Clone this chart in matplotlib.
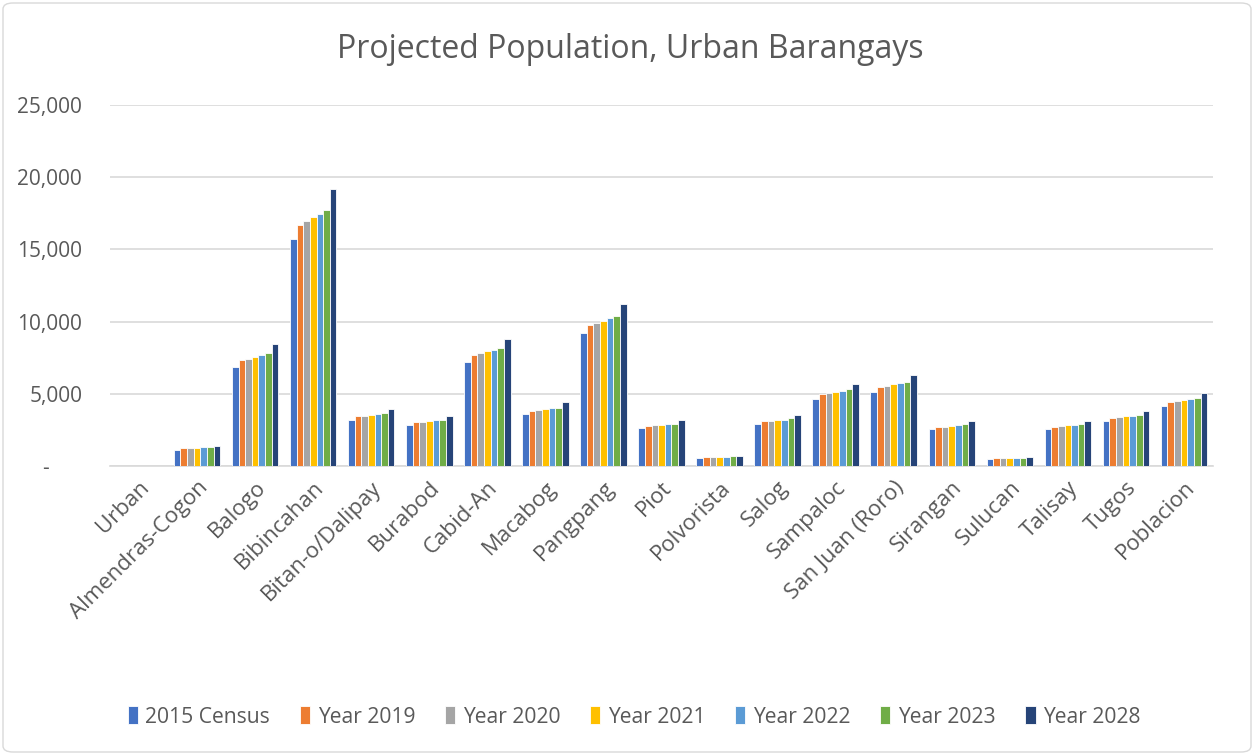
import matplotlib
matplotlib.use("Agg")
import matplotlib.pyplot as plt
import numpy as np
from matplotlib.patches import FancyBboxPatch

categories = ["Urban", "Almendras-Cogon", "Balogo", "Bibincahan", "Bitan-o/Dalipay",
              "Burabod", "Cabid-An", "Macabog", "Pangpang", "Piot", "Polvorista",
              "Salog", "Sampaloc", "San Juan (Roro)", "Sirangan", "Sulucan",
              "Talisay", "Tugos", "Poblacion"]
series_names = ["2015 Census", "Year 2019", "Year 2020", "Year 2021",
                "Year 2022", "Year 2023", "Year 2028"]

census_2015 = [0, 1130, 6890, 15710, 3200, 2830, 7230, 3590, 9220, 2600, 580, 2900, 4660, 5140, 2570, 480, 2570, 3140, 4150]
year_2019 = [0, 1220, 7330, 16680, 3430, 3020, 7710, 3820, 9770, 2790, 620, 3090, 4980, 5460, 2710, 530, 2730, 3300, 4400]
year_2020 = [0, 1245, 7440, 16960, 3460, 3040, 7830, 3890, 9930, 2810, 625, 3130, 5030, 5550, 2730, 550, 2750, 3370, 4470]
year_2021 = [0, 1250, 7560, 17210, 3530, 3110, 7930, 3960, 10070, 2860, 628, 3160, 5150, 5660, 2780, 552, 2820, 3440, 4560]
year_2022 = [0, 1290, 7700, 17470, 3570, 3160, 8040, 4010, 10230, 2900, 630, 3200, 5220, 5730, 2840, 555, 2870, 3490, 4630]
year_2023 = [0, 1295, 7810, 17740, 3640, 3200, 8180, 4050, 10390, 2930, 665, 3290, 5300, 5800, 2890, 558, 2890, 3510, 4700]
year_2028 = [0, 1405, 8430, 19170, 3940, 3460, 8800, 4400, 11220, 3180, 690, 3520, 5690, 6280, 3140, 620, 3140, 3830, 5070]

series = [census_2015, year_2019, year_2020, year_2021, year_2022, year_2023, year_2028]
colors = ["#4472C4", "#ED7D31", "#A5A5A5", "#FFC000", "#5B9BD5", "#70AD47", "#264478"]

yticks = [0, 5000, 10000, 15000, 20000, 25000]
ytick_labels = ["-      ", "5,000", "10,000", "15,000", "20,000", "25,000"]

font = "Open Sans"
txt = "#595959"

fig = plt.figure(figsize=(12.54, 7.55), dpi=100)
ax = fig.add_axes([110/1254, 1-466/755, (1213-110)/1254, (466-105)/755])

n = len(series)
x = np.arange(len(categories))
group_w = 0.80
bw = group_w / n
for i, (vals, c, name) in enumerate(zip(series, colors, series_names)):
    offs = -group_w/2 + bw*(i+0.5)
    ax.bar(x + offs, vals, width=bw, color=c, edgecolor="white", linewidth=0.6,
           label=name, zorder=3)

ax.set_xlim(-0.5, len(categories)-0.5)
ax.set_ylim(0, 25000)
ax.set_yticks(yticks)
ax.set_yticklabels(ytick_labels, fontfamily=font, fontsize=15, color=txt)
ax.grid(axis="y", color="#D9D9D9", linewidth=1.2, zorder=0)
ax.set_xticks(x)
ax.set_xticklabels(categories, rotation=45, ha="right", rotation_mode="anchor",
                   fontfamily=font, fontsize=16, color=txt)
ax.tick_params(axis="both", length=0, pad=8)
ax.tick_params(axis="y", pad=20)
for s in ["top", "right", "left"]:
    ax.spines[s].set_visible(False)
ax.spines["bottom"].set_color("#D9D9D9")
ax.spines["bottom"].set_linewidth(1.2)

fig.text(630/1254, 1-50/755, "Projected Population, Urban Barangays",
         ha="center", va="center", fontfamily=font, fontsize=23, color=txt)

leg = fig.legend(loc="center", bbox_to_anchor=(634/1254, 1-717/755), ncol=7,
                 frameon=False, prop={"family": font, "size": 15.2},
                 handlelength=0.5, handleheight=0.9, handletextpad=0.35,
                 columnspacing=1.4)
for t in leg.get_texts():
    t.set_color(txt)

border = FancyBboxPatch((3/1254, 3/755), 1-6/1254, 1-6/755,
                        boxstyle="round,pad=0,rounding_size=0.008",
                        transform=fig.transFigure, fill=False,
                        edgecolor="#D9D9D9", linewidth=1.0)
fig.patches.append(border)

fig.savefig("out.png", dpi=100, facecolor="white")
